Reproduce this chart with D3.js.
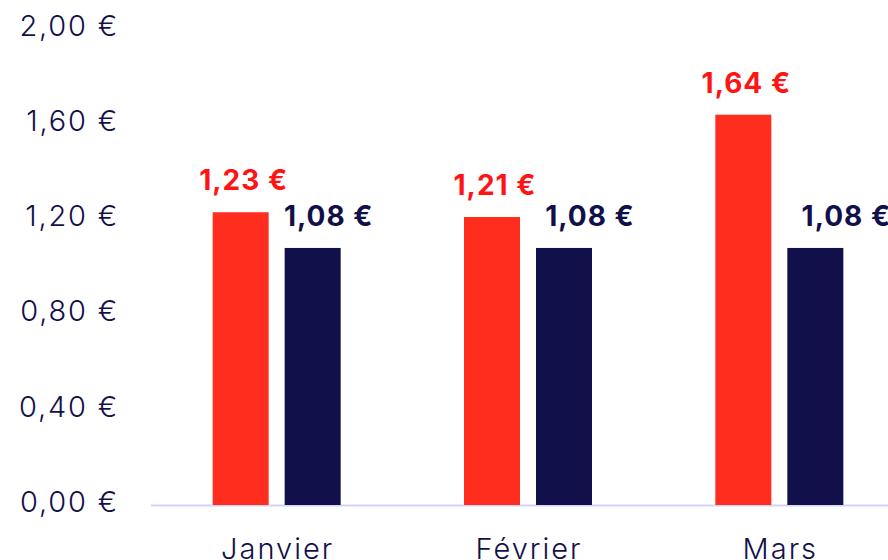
<!DOCTYPE html>
<html>
<head>
<meta charset="utf-8">
<script src="https://cdn.jsdelivr.net/npm/d3@7"></script>
<style>
  html, body { margin: 0; padding: 0; background: #fff; }
  svg { display: block; }
</style>
</head>
<body>
<svg id="chart" width="888" height="560"></svg>
<script>
// data
const months = ["Janvier", "Février", "Mars"];
const seriesKeys = ["actual", "reference"];
const actualValues = [1.23, 1.21, 1.64];
const referenceValues = [1.08, 1.08, 1.08];
const yTicks = [0, 0.4, 0.8, 1.2, 1.6, 2.0];

// layout
const width = 888, height = 560;
const x0 = 151, x1 = 905;
const yZero = 505, yTop = 29;
const navyLabelShift = [16, 26, 31];
const red = "#ff2d1e", redText = "#ff1414", navy = "#12104a";
const font = "Inter, 'Noto Sans', sans-serif";

const fmt = (v) => v.toFixed(2).replace(".", ",") + " €";

const svg = d3.select("#chart");

const x = d3.scaleBand().domain(months).range([x0, x1]).padding(0);
const xs = d3
  .scaleBand()
  .domain(seriesKeys)
  .range([(x.bandwidth() - 128) / 2, (x.bandwidth() + 128) / 2])
  .paddingInner(16 / 72);
const y = d3.scaleLinear().domain([0, 2]).range([yZero, yTop]);

const rows = months.map((m, i) => ({
  month: m,
  i: i,
  values: [
    { key: "actual", v: actualValues[i] },
    { key: "reference", v: referenceValues[i] },
  ],
}));

// y axis labels
const yAxis = d3
  .axisLeft(y)
  .tickValues(yTicks)
  .tickFormat(fmt)
  .tickSize(0)
  .tickPadding(0);
svg
  .append("g")
  .attr("transform", "translate(119,0)")
  .call(yAxis)
  .call((g) => g.select(".domain").remove())
  .selectAll("text")
  .attr("fill", navy)
  .attr("font-family", font)
  .attr("font-weight", 300)
  .attr("font-size", 29)
  .attr("letter-spacing", "1.8px")
  .attr("dy", "0.22em");

// baseline
svg
  .append("line")
  .attr("x1", x0)
  .attr("x2", width)
  .attr("y1", yZero + 0.5)
  .attr("y2", yZero + 0.5)
  .attr("stroke", "#d3d3f6")
  .attr("stroke-width", 2);

// bars
const groups = svg
  .selectAll("g.month")
  .data(rows)
  .join("g")
  .attr("class", "month")
  .attr("transform", (d) => `translate(${x(d.month)},0)`);

groups
  .selectAll("rect")
  .data((d) => d.values)
  .join("rect")
  .attr("x", (d) => xs(d.key))
  .attr("width", xs.bandwidth())
  .attr("y", (d) => y(d.v))
  .attr("height", (d) => y(0) - y(d.v))
  .attr("fill", (d) => (d.key == "actual" ? red : navy));

// value labels
groups
  .selectAll("text.val")
  .data((d) => d.values.map((e) => ({ ...e, i: d.i })))
  .join("text")
  .attr("class", "val")
  .attr(
    "x",
    (d) =>
      xs(d.key) +
      xs.bandwidth() / 2 +
      (d.key == "actual" ? 3 : navyLabelShift[d.i])
  )
  .attr("y", (d) => y(d.v) - 22)
  .attr("text-anchor", "middle")
  .attr("font-family", font)
  .attr("font-weight", 700)
  .attr("font-size", 28)
  .attr("letter-spacing", "1px")
  .attr("fill", (d) => (d.key == "actual" ? redText : navy))
  .text((d) => fmt(d.v));

// month labels
groups
  .append("text")
  .attr("x", x.bandwidth() / 2 + 1)
  .attr("y", 559)
  .attr("text-anchor", "middle")
  .attr("font-family", font)
  .attr("font-weight", 300)
  .attr("font-size", 29)
  .attr("letter-spacing", "2px")
  .attr("fill", navy)
  .text((d) => d.month);
</script>
</body>
</html>
